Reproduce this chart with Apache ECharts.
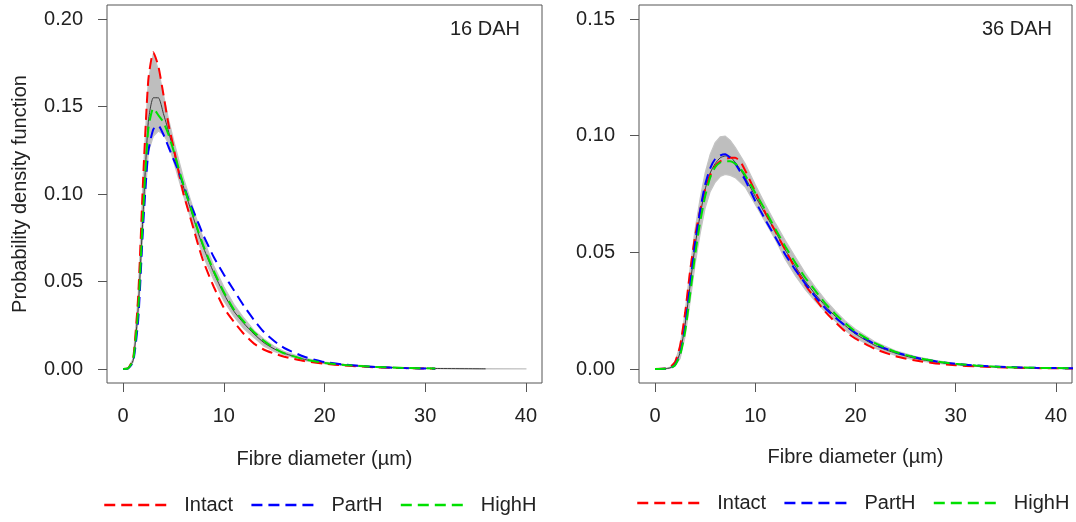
<!DOCTYPE html>
<html>
<head>
<meta charset="utf-8">
<script src="https://cdn.jsdelivr.net/npm/echarts@6/dist/echarts.min.js"></script>
<style>html,body{margin:0;padding:0;background:#fff}#c{width:1076px;height:522px}</style>
</head>
<body>
<div id="c"></div>
<script>
// ---- Data ----
const xTicks = [0, 10, 20, 30, 40];
const leftYTicks = [0, 0.05, 0.10, 0.15, 0.20];
const rightYTicks = [0, 0.05, 0.10, 0.15];

// 16 DAH panel
const leftX = [0, 0.5, 1, 1.5, 2, 2.5, 3, 3.5, 4, 4.5, 5, 5.5, 6, 6.5, 7, 7.5, 8, 9, 10, 11, 12, 13, 14, 15, 16, 18, 20, 22, 25, 28, 31];
const leftIntact = [0, 0.0005, 0.006, 0.042, 0.110, 0.165, 0.181, 0.173, 0.157, 0.140, 0.127, 0.113, 0.100, 0.090, 0.080, 0.070, 0.061, 0.047, 0.035, 0.027, 0.020, 0.0145, 0.011, 0.0088, 0.007, 0.0045, 0.003, 0.002, 0.001, 0.0005, 0.0002];
const leftPartH = [0, 0.0003, 0.004, 0.028, 0.083, 0.124, 0.137, 0.139, 0.134, 0.127, 0.120, 0.113, 0.105, 0.097, 0.090, 0.083, 0.076, 0.064, 0.054, 0.045, 0.036, 0.028, 0.021, 0.016, 0.012, 0.007, 0.004, 0.0025, 0.0012, 0.0005, 0.0002];
const leftHighH = [0, 0.0004, 0.005, 0.034, 0.091, 0.137, 0.149, 0.145, 0.141, 0.134, 0.125, 0.115, 0.105, 0.096, 0.087, 0.078, 0.070, 0.056, 0.044, 0.034, 0.027, 0.021, 0.016, 0.012, 0.009, 0.0055, 0.0035, 0.0023, 0.0012, 0.0006, 0.0003];
const leftBandX = [0, 0.5, 1, 1.5, 2, 2.5, 3, 3.5, 4, 4.5, 5, 5.5, 6, 6.5, 7, 7.5, 8, 9, 10, 11, 12, 13, 14, 15, 16, 18, 20, 22, 25, 28, 31, 36, 40];
const leftMean = [0, 0.0004, 0.005, 0.035, 0.091, 0.141, 0.155, 0.155, 0.146, 0.136, 0.125, 0.114, 0.104, 0.095, 0.086, 0.077, 0.069, 0.055, 0.043, 0.033, 0.026, 0.020, 0.015, 0.0115, 0.009, 0.0055, 0.0035, 0.0023, 0.0012, 0.0006, 0.0003, 0.0001];
const leftBandHigh = [0, 0.0005, 0.006, 0.042, 0.110, 0.165, 0.180, 0.171, 0.157, 0.143, 0.131, 0.120, 0.109, 0.100, 0.091, 0.082, 0.074, 0.059, 0.047, 0.037, 0.029, 0.022, 0.017, 0.013, 0.010, 0.0063, 0.004, 0.0027, 0.0015, 0.0008, 0.0004, 0.0002, 0.0001];
const leftBandLow = [0, 0.0003, 0.004, 0.028, 0.083, 0.124, 0.133, 0.136, 0.134, 0.129, 0.119, 0.109, 0.099, 0.090, 0.081, 0.072, 0.064, 0.051, 0.039, 0.030, 0.023, 0.018, 0.013, 0.010, 0.008, 0.0047, 0.003, 0.0019, 0.0009, 0.0004, 0.0002, 0, 0];

// 36 DAH panel
const rightX = [0, 1, 1.5, 2, 2.5, 3, 3.5, 4, 4.5, 5, 5.5, 6, 6.5, 7, 7.5, 8, 8.5, 9, 10, 11, 12, 13, 14, 15, 16, 17, 18, 19, 20, 22, 24, 26, 28, 30, 32, 35, 38, 42];
const rightMean = [0, 0.0001, 0.0005, 0.002, 0.007, 0.019, 0.036, 0.053, 0.066, 0.077, 0.084, 0.088, 0.0905, 0.0913, 0.091, 0.0885, 0.0855, 0.082, 0.074, 0.0665, 0.059, 0.051, 0.044, 0.0375, 0.032, 0.027, 0.0225, 0.0185, 0.015, 0.010, 0.0068, 0.0045, 0.003, 0.002, 0.0013, 0.0007, 0.0004, 0.0002];
const rightIntact = [0, 0.0002, 0.0008, 0.003, 0.010, 0.024, 0.042, 0.057, 0.068, 0.077, 0.083, 0.087, 0.089, 0.090, 0.0905, 0.0905, 0.089, 0.085, 0.076, 0.067, 0.059, 0.051, 0.043, 0.036, 0.030, 0.0245, 0.020, 0.016, 0.013, 0.0085, 0.0055, 0.0036, 0.0024, 0.0016, 0.0011, 0.0006, 0.0004, 0.0002];
const rightPartH = [0, 0.0001, 0.0004, 0.0018, 0.0065, 0.018, 0.036, 0.054, 0.068, 0.079, 0.086, 0.090, 0.0915, 0.092, 0.0905, 0.088, 0.0845, 0.081, 0.072, 0.064, 0.0565, 0.049, 0.0425, 0.0365, 0.031, 0.026, 0.022, 0.0185, 0.0155, 0.0105, 0.0072, 0.0049, 0.0033, 0.0022, 0.0015, 0.0009, 0.0005, 0.0003];
const rightHighH = [0, 0.0001, 0.0004, 0.0017, 0.006, 0.016, 0.032, 0.049, 0.063, 0.074, 0.082, 0.0865, 0.0885, 0.089, 0.089, 0.088, 0.086, 0.083, 0.0755, 0.068, 0.060, 0.0525, 0.0455, 0.039, 0.0335, 0.028, 0.0235, 0.0195, 0.016, 0.011, 0.0073, 0.0049, 0.0033, 0.0022, 0.0015, 0.0008, 0.0005, 0.0003];
const rightBandHigh = [0, 0.0002, 0.0008, 0.003, 0.010, 0.024, 0.043, 0.060, 0.073, 0.084, 0.092, 0.097, 0.0995, 0.0998, 0.098, 0.095, 0.0915, 0.088, 0.079, 0.0705, 0.0625, 0.055, 0.048, 0.041, 0.035, 0.0295, 0.0248, 0.0205, 0.017, 0.0115, 0.0078, 0.0053, 0.0036, 0.0024, 0.0016, 0.0009, 0.0005, 0.0003];
const rightBandLow = [0, 0, 0.0003, 0.0013, 0.0045, 0.014, 0.029, 0.045, 0.058, 0.069, 0.076, 0.080, 0.0825, 0.0834, 0.083, 0.082, 0.080, 0.078, 0.0705, 0.063, 0.0555, 0.047, 0.040, 0.034, 0.029, 0.0245, 0.0205, 0.0165, 0.0133, 0.0088, 0.0058, 0.0038, 0.0025, 0.0017, 0.0011, 0.0006, 0.0003, 0.0001];

const seriesNames = ['Intact', 'PartH', 'HighH'];
const panelLabels = ['16 DAH', '36 DAH'];
const xTitle = 'Fibre diameter (µm)';
const yTitle = 'Probability density function';

// ---- Build ----
const FONT = 'Liberation Sans, Arial, Helvetica, sans-serif';
const TXT = '#222';
const AX = '#555';
const pairs = (xs, ys) => ys.map((y, i) => [xs[i], y]);
const colors = { Intact: '#ff0000', PartH: '#0000ff', HighH: '#00e000' };

function xAxisCfg(gi, gap) {
  return {
    type: 'value', gridIndex: gi, min: -1.6, max: 41.6,
    name: xTitle, nameLocation: 'middle', nameGap: gap,
    nameTextStyle: { fontFamily: FONT, fontSize: 20, color: TXT },
    axisLine: { show: false, onZero: false },
    axisTick: { show: true, length: 9, inside: false, customValues: xTicks, lineStyle: { color: AX, width: 1 } },
    axisLabel: { customValues: xTicks, margin: 23, fontFamily: FONT, fontSize: 20, color: TXT },
    splitLine: { show: false }
  };
}
function yAxisCfg(gi, min, max, ticks, withName) {
  const c = {
    type: 'value', gridIndex: gi, min: min, max: max,
    axisLine: { show: false, onZero: false },
    axisTick: { show: true, length: 9, customValues: ticks, lineStyle: { color: AX, width: 1 } },
    axisLabel: { customValues: ticks, margin: 24, fontFamily: FONT, fontSize: 20, color: TXT,
      formatter: v => v.toFixed(2) },
    splitLine: { show: false }
  };
  if (withName) {
    c.name = yTitle; c.nameLocation = 'middle'; c.nameGap = 77;
    c.nameTextStyle = { fontFamily: FONT, fontSize: 20, color: TXT };
  }
  return c;
}
function bandSeries(gi, bx, bLow, bHigh) {
  return {
    name: 'band-' + gi, type: 'custom', xAxisIndex: gi, yAxisIndex: gi, silent: true, z: 1, clip: true,
    data: bx.map((x, i) => [x, bLow[i], bHigh[i]]),
    encode: { x: 0, y: [1, 2] },
    renderItem: function (params, api) {
      if (params.dataIndex !== 0) return null;
      const pts = [];
      for (let i = 0; i < bx.length; i++) pts.push(api.coord([bx[i], bHigh[i]]));
      for (let i = bx.length - 1; i >= 0; i--) pts.push(api.coord([bx[i], bLow[i]]));
      const cs = params.coordSys;
      return {
        type: 'polygon', shape: { points: pts },
        style: { fill: '#bebebe', stroke: '#c4c4c4', lineWidth: 1.2 },
        clipPath: { type: 'rect', shape: { x: cs.x, y: cs.y, width: cs.width, height: cs.height } }
      };
    }
  };
}
function panelSeries(gi, bx, bLow, bHigh, mean, x, data) {
  const s = [bandSeries(gi, bx, bLow, bHigh)];
  s.push({ name: 'mean-' + gi, type: 'line', xAxisIndex: gi, yAxisIndex: gi,
    data: pairs(bx, mean), symbol: 'none', smooth: 0.2, lineStyle: { color: '#3a3a3a', width: 1 }, z: 2 });
  seriesNames.forEach((n, k) => {
    s.push({ name: n, type: 'line', xAxisIndex: gi, yAxisIndex: gi, data: pairs(x, data[k]),
      symbol: 'none', smooth: 0.2, lineStyle: { color: colors[n], width: 2, type: [11, 6] },
      itemStyle: { color: colors[n] }, z: 3 + k });
  });
  return s;
}

const legendCommon = {
  data: seriesNames, orient: 'horizontal', itemWidth: 66, itemHeight: 14, itemGap: 17, padding: 0,
  textStyle: { fontFamily: FONT, fontSize: 20, color: TXT, padding: [0, 0, 0, 9] },
  lineStyle: { width: 2.5 }, itemStyle: { opacity: 0 }, selectedMode: false
};

const option = {
  animation: false,
  backgroundColor: '#fff',
  grid: [
    { left: 107, right: 534, top: 5, bottom: 139, show: true, borderColor: AX, borderWidth: 1, backgroundColor: 'transparent' },
    { left: 639, right: 4, top: 5, bottom: 139, show: true, borderColor: AX, borderWidth: 1, backgroundColor: 'transparent' }
  ],
  title: [
    { text: panelLabels[0], right: 556, top: 19, padding: 0, textStyle: { fontFamily: FONT, fontSize: 20, fontWeight: 'normal', color: TXT } },
    { text: panelLabels[1], right: 24, top: 19, padding: 0, textStyle: { fontFamily: FONT, fontSize: 20, fontWeight: 'normal', color: TXT } }
  ],
  legend: [
    Object.assign({}, legendCommon, { left: 103, top: 495 }),
    Object.assign({}, legendCommon, { left: 636, top: 493 })
  ],
  xAxis: [xAxisCfg(0, 66), xAxisCfg(1, 64)],
  yAxis: [yAxisCfg(0, -0.008, 0.208, leftYTicks, true), yAxisCfg(1, -0.006, 0.156, rightYTicks, false)],
  series: [].concat(
    panelSeries(0, leftBandX, leftBandLow, leftBandHigh, leftMean, leftX, [leftIntact, leftPartH, leftHighH]),
    panelSeries(1, rightX, rightBandLow, rightBandHigh, rightMean, rightX, [rightIntact, rightPartH, rightHighH])
  )
};

const chart = echarts.init(document.getElementById('c'), null, { renderer: 'canvas' });
chart.setOption(option);
</script>
</body>
</html>
